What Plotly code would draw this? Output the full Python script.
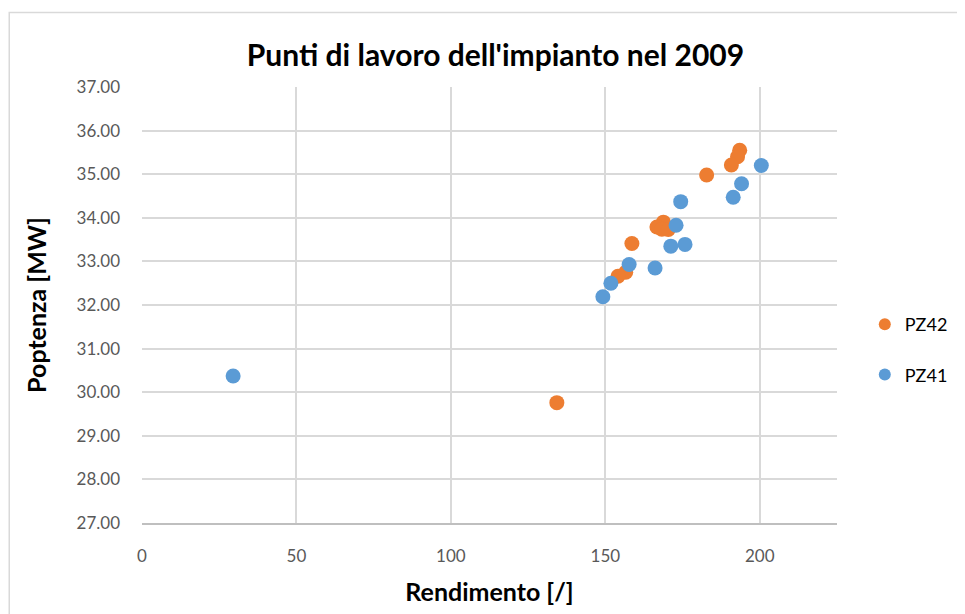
import plotly.graph_objects as go

# Data
pz42_rendimento = [193.5, 192.8, 190.8, 182.8, 168.8, 166.7, 168.3, 170.4, 158.6, 156.6, 154.1, 134.3]
pz42_potenza    = [35.55, 35.40, 35.21, 34.98, 33.90, 33.79, 33.74, 33.73, 33.41, 32.75, 32.66, 29.76]

pz41_rendimento = [200.5, 194.1, 191.4, 174.4, 172.9, 175.8, 171.2, 166.1, 157.7, 151.8, 149.2, 29.5]
pz41_potenza    = [35.20, 34.78, 34.47, 34.37, 33.83, 33.39, 33.35, 32.85, 32.93, 32.50, 32.19, 30.37]

x_ticks = [0, 50, 100, 150, 200]

FONT = "Lato, 'Open Sans', sans-serif"

fig = go.Figure()
fig.add_trace(go.Scatter(x=pz42_rendimento, y=pz42_potenza, mode="markers", name="PZ42",
                         legendgroup="a",
                         marker=dict(color="#ED7D31", size=15, line=dict(width=0))))
fig.add_trace(go.Scatter(x=pz41_rendimento, y=pz41_potenza, mode="markers", name="PZ41",
                         legendgroup="b",
                         marker=dict(color="#5B9BD5", size=15, line=dict(width=0))))

fig.update_layout(
    width=957, height=606,
    margin=dict(l=134, r=127, t=79, b=89),
    paper_bgcolor="white", plot_bgcolor="white",
    font=dict(family=FONT, size=16, color="#595959"),
    title=dict(text="<b>Punti di lavoro dell'impianto nel 2009</b>", x=0.5086, xref="paper",
               xanchor="center", y=1 - 47 / 606, yanchor="middle",
               font=dict(family=FONT, size=30, color="#000000")),
    xaxis=dict(range=[0, 225], tickvals=x_ticks, showgrid=True, gridcolor="#D9D9D9", gridwidth=1.5,
               zeroline=False, showline=True, linecolor="#BFBFBF", linewidth=1.5,
               ticks="", ticklabelstandoff=17, tickfont=dict(size=17),
               title=dict(text="<b>Rendimento [/]</b>", font=dict(family=FONT, size=25, color="#000000"),
                          standoff=18)),
    yaxis=dict(range=[27, 37], dtick=1, tickformat=".2f", showgrid=True, gridcolor="#D9D9D9", gridwidth=1.5,
               zeroline=False, showline=False, ticks="", ticklabelstandoff=21, tickfont=dict(size=17),
               title=dict(text="<b>Poptenza [MW]</b>", font=dict(family=FONT, size=25, color="#000000"),
                          standoff=22)),
    legend=dict(x=1.04, xanchor="left", y=0.398, yanchor="middle",
                font=dict(family=FONT, size=18, color="#000000"),
                itemsizing="constant", tracegroupgap=24, bgcolor="rgba(0,0,0,0)"),
    showlegend=True,
    shapes=[dict(type="rect", xref="paper", yref="paper", x0=-0.191, x1=1.19, y0=-0.25, y1=1.171,
                 line=dict(color="#D9D9D9", width=1.5), fillcolor="rgba(0,0,0,0)", layer="below")],
)

fig.write_html("out.html")
